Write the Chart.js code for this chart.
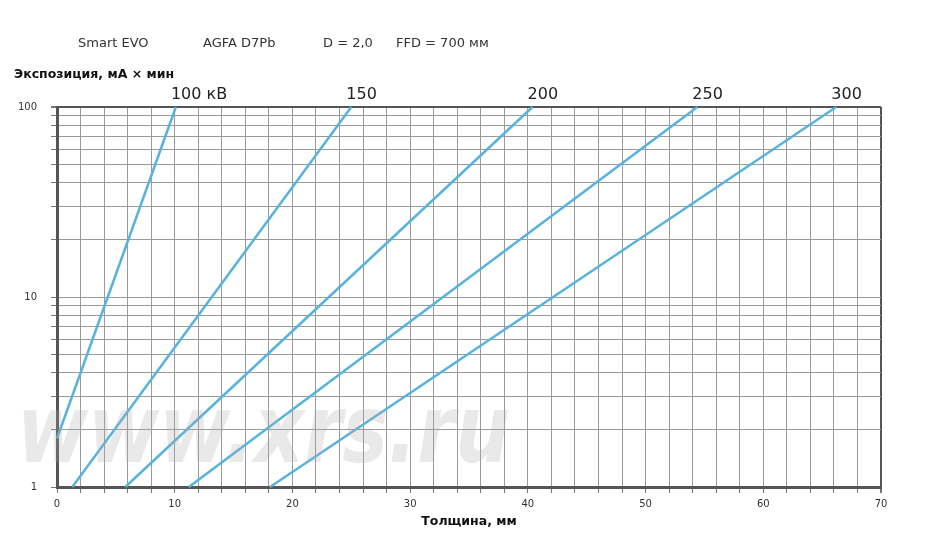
<!DOCTYPE html>
<html>
<head>
<meta charset="utf-8">
<script src="https://cdn.jsdelivr.net/npm/chart.js@4"></script>
<style>
  html, body { margin: 0; padding: 0; background: #fff; }
  #wrap { width: 933px; height: 553px; }
</style>
</head>
<body>
<div id="wrap"><canvas id="chart"></canvas></div>
<script>
// header texts
const headerTexts = ['Smart EVO', 'AGFA D7Pb', 'D = 2,0', 'FFD = 700 мм'];

// one line per tube voltage: start and end points (thickness mm, exposure mA×min)
const seriesLabels = ['100 кВ', '150', '200', '250', '300'];
const thicknessStart = [0, 1.3, 5.8, 11.2, 18.1];
const exposureStart = [1.8, 1, 1, 1, 1];
const thicknessEnd = [10.1, 25, 40.4, 54.4, 66.2];
const exposureEnd = [100, 100, 100, 100, 100];

const xTickLabels = [0, 10, 20, 30, 40, 50, 60, 70];
const yTickLabels = [1, 10, 100];
const yGridSteps = [1, 2, 3, 4, 5, 6, 7, 8, 9];

const lineColor = 'rgb(88, 178, 222)';

const datasets = seriesLabels.map((name, i) => ({
  label: name,
  data: [
    { x: thicknessStart[i], y: exposureStart[i] },
    { x: thicknessEnd[i], y: exposureEnd[i] },
  ],
  borderColor: lineColor,
  borderWidth: 2.5,
  pointRadius: 0,
  tension: 0,
  clip: false,
}));

// texts drawn straight on the canvas
const extraText = {
  id: 'extraText',
  afterDatasetsDraw(chart) {
    const { ctx } = chart;
    ctx.save();

    // watermark
    ctx.font = 'bold italic 94px "DejaVu Sans"';
    const w = ctx.measureText('www.xrs.ru').width;
    ctx.translate(17, 462);
    ctx.scale(493 / w, 1);
    ctx.fillStyle = 'rgba(170, 170, 170, 0.26)';
    ctx.textBaseline = 'alphabetic';
    ctx.textAlign = 'left';
    ctx.fillText('www.xrs.ru', 0, 0);
    ctx.restore();

    ctx.save();
    // voltage labels at the top end of each line
    ctx.font = '16px "DejaVu Sans"';
    ctx.fillStyle = '#222';
    ctx.textAlign = 'left';
    ctx.textBaseline = 'alphabetic';
    chart.data.datasets.forEach((ds, i) => {
      const pts = chart.getDatasetMeta(i).data;
      const p = pts[pts.length - 1];
      ctx.fillText(ds.label, p.x - 5, 99);
    });

    // header line
    ctx.font = '13px "DejaVu Sans"';
    ctx.fillStyle = '#333';
    const hx = [78, 203, 323, 396];
    headerTexts.forEach((t, i) => ctx.fillText(t, hx[i], 47));

    // y axis title (horizontal)
    ctx.font = 'bold 12.5px "DejaVu Sans"';
    ctx.fillStyle = '#111';
    ctx.fillText('Экспозиция, мА × мин', 14, 78);
    ctx.restore();
  }
};

new Chart(document.getElementById('chart'), {
  type: 'line',
  data: { datasets },
  options: {
    responsive: true,
    maintainAspectRatio: false,
    animation: false,
    layout: { padding: { left: 0, right: 52, top: 107, bottom: 0 } },
    plugins: {
      legend: { display: false },
      tooltip: { enabled: false },
    },
    scales: {
      x: {
        type: 'linear',
        min: 0,
        max: 70,
        afterFit: (s) => { s.height = 66; },
        ticks: {
          stepSize: 2,
          autoSkip: false,
          maxRotation: 0,
          padding: 5,
          color: '#333',
          font: { family: 'DejaVu Sans', size: 10 },
          callback: (v) => (xTickLabels.includes(v) ? String(v) : ''),
        },
        grid: {
          color: (c) => (c.tick && c.tick.value === 70 ? '#555' : '#9a9a9a'),
          lineWidth: (c) => (c.tick && c.tick.value === 70 ? 2 : 1),
          tickColor: '#777',
          tickLength: 6,
        },
        border: { display: true, color: '#555', width: 3 },
        title: {
          display: true,
          text: 'Толщина, мм',
          color: '#111',
          font: { family: 'DejaVu Sans', size: 12.5, weight: 'bold' },
          padding: { top: 0, bottom: 24 },
        },
      },
      y: {
        type: 'logarithmic',
        min: 1,
        max: 100,
        afterFit: (s) => { s.width = 57; },
        afterBuildTicks: (s) => {
          const ticks = [];
          [1, 10].forEach((d) => yGridSteps.forEach((m) => ticks.push({ value: d * m })));
          ticks.push({ value: 100 });
          s.ticks = ticks;
        },
        ticks: {
          autoSkip: false,
          padding: 14,
          color: '#333',
          font: { family: 'DejaVu Sans', size: 10 },
          callback: (v) => (yTickLabels.includes(v) ? String(v) : ''),
        },
        grid: {
          color: (c) => (c.tick && c.tick.value === 100 ? '#555' : '#9a9a9a'),
          lineWidth: (c) => (c.tick && c.tick.value === 100 ? 2 : 1),
          tickColor: '#777',
          tickLength: 6,
        },
        border: { display: true, color: '#555', width: 3 },
      },
    },
  },
  plugins: [extraText],
});
</script>
</body>
</html>
